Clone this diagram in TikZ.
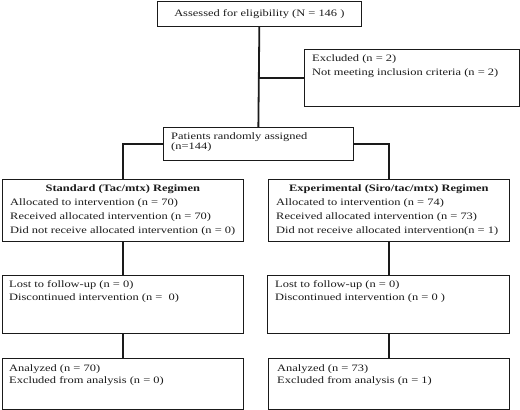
\documentclass[tikz,border=0pt]{standalone}
\usepackage{fontspec}
\setmainfont{Liberation Serif}[FakeStretch=1.27]
\usepackage{tikz}
\usetikzlibrary{calc}
\definecolor{ink}{HTML}{1A1A1A}
\tikzset{
  box/.style={draw=ink, line width=0.7pt, inner sep=0pt, anchor=north west},
  txt/.style={inner sep=0pt, anchor=north west, align=left, text=ink,
              font=\fontsize{9.8}{14}\selectfont},
  link/.style={draw=ink, line width=1.8pt}
}
\begin{document}
\begin{tikzpicture}[x=1pt, y=-1pt]
    \useasboundingbox (0, 0) rectangle (520, 410);
    % boxes
    \node[box, minimum width=204pt, minimum height=25pt] (elig) at (157, 1) {};
    \node[box, minimum width=215pt, minimum height=57pt] (excl) at (304, 49) {};
    \node[box, minimum width=190pt, minimum height=33pt] (rand) at (163, 127) {};
    \node[box, minimum width=241pt, minimum height=62pt] (stdArm) at (2, 179) {};
    \node[box, minimum width=241pt, minimum height=62pt] (expArm) at (268, 179) {};
    \node[box, minimum width=241pt, minimum height=58pt] (stdLost) at (2, 275) {};
    \node[box, minimum width=242pt, minimum height=58pt] (expLost) at (267, 275) {};
    \node[box, minimum width=241pt, minimum height=51pt] (stdAna) at (2, 358) {};
    \node[box, minimum width=241pt, minimum height=51pt] (expAna) at (268, 358) {};
    % texts
    \node[txt, anchor=center] (eligT) at (elig.center) {Assessed for eligibility (N = 146 )};
    \node[txt] (exclT) at ($(excl.north west)+(8,5)$)
      {Excluded (n = 2)\\Not meeting inclusion criteria (n = 2)};
    \node[txt, font=\fontsize{9.8}{10}\selectfont] (randT) at ($(rand.north west)+(8,5)$)
      {Patients randomly assigned\\(n=144)};
    \node[txt, anchor=north, font=\fontsize{9.8}{14}\selectfont\bfseries] (stdHead)
      at ($(stdArm.north)+(0,5)$) {Standard (Tac/mtx) Regimen};
    \node[txt] (stdArmT) at ($(stdArm.north west)+(8,19)$)
      {Allocated to intervention (n = 70)\\Received allocated intervention (n = 70)\\Did not receive allocated intervention (n = 0)};
    \node[txt, anchor=north, font=\fontsize{9.8}{14}\selectfont\bfseries] (expHead)
      at ($(expArm.north)+(0,5)$) {Experimental (Siro/tac/mtx) Regimen};
    \node[txt] (expArmT) at ($(expArm.north west)+(8,19)$)
      {Allocated to intervention (n = 74)\\Received allocated intervention (n = 73)\\Did not receive allocated intervention(n = 1)};
    \node[txt, font=\fontsize{9.8}{13.5}\selectfont] (stdLostT) at ($(stdLost.north west)+(7,5)$)
      {Lost to follow-up (n = 0)\\Discontinued intervention (n =~ 0)};
    \node[txt, font=\fontsize{9.8}{13.5}\selectfont] (expLostT) at ($(expLost.north west)+(8,5)$)
      {Lost to follow-up (n = 0)\\Discontinued intervention (n = 0 )};
    \node[txt, font=\fontsize{9.8}{12.7}\selectfont] (stdAnaT) at ($(stdAna.north west)+(7,6)$)
      {Analyzed (n = 70)\\Excluded from analysis (n = 0)};
    \node[txt, font=\fontsize{9.8}{12.7}\selectfont] (expAnaT) at ($(expAna.north west)+(9,6)$)
      {Analyzed (n = 73)\\Excluded from analysis (n = 1)};
    % connectors
    \draw[link] (elig.south) -- (rand.north);
    \draw[link] (elig.south |- excl.west) -- (excl.west);
    \draw[link] (rand.west) -| (stdArm.north);
    \draw[link] (rand.east) -| (expArm.north);
    \draw[link] (stdArm.south) -- (stdLost.north);
    \draw[link] (expArm.south) -- (expArm.south |- expLost.north);
    \draw[link] (stdLost.south) -- (stdAna.north);
    \draw[link] (expLost.south -| expArm.south) -- (expArm.south |- expAna.north);
\end{tikzpicture}
\end{document}
